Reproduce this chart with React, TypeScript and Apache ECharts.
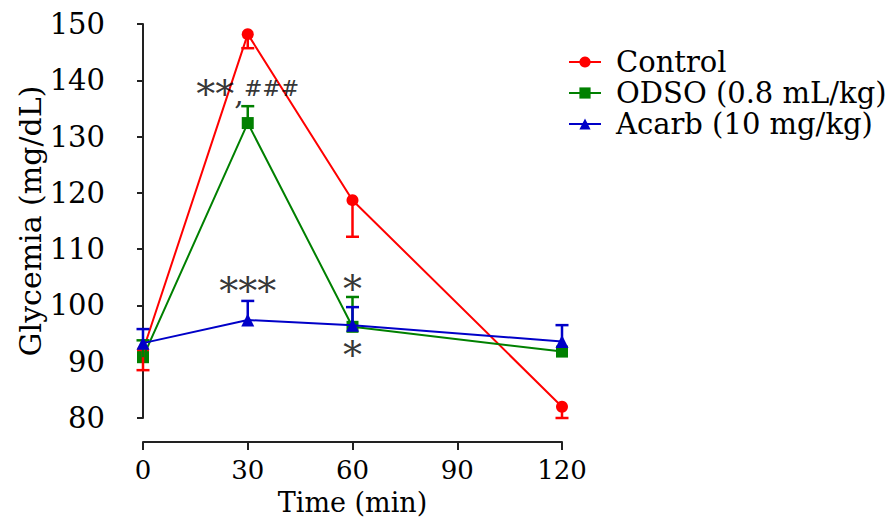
import React, { useEffect, useRef } from "react";
import * as echarts from "echarts";

const times = [0, 30, 60, 120];
const seriesNames = ["Control", "ODSO (0.8 mL/kg)", "Acarb (10 mg/kg)"];
const controlMean = [92, 148.2, 118.7, 82];
const controlErr = [3.5, 2.5, 6.5, 2];
const odsoMean = [90.8, 132.4, 96.2, 91.8];
const odsoErr = [3, 3, 5.3, 0];
const acarbMean = [93.3, 97.4, 96.5, 93.6];
const acarbErr = [2.5, 3.4, 3.2, 2.9];
const annotations = [
  { x: 30, y: 137.6, stars: "**", hashes: "###" },
  { x: 30, y: 102.6, stars: "***", hashes: "" },
  { x: 60, y: 102.9, stars: "*", hashes: "" },
  { x: 60, y: 91.2, stars: "*", hashes: "" },
];

const FONT = "DejaVu Serif";
const colors = ["#ff0000", "#008000", "#0000c8"];

function errData(mean: number[], err: number[], dir: number) {
  return times.map((t, i) => {
    const a = mean[i];
    const b = mean[i] + dir * err[i];
    return [t, Math.min(a, b), Math.max(a, b), dir];
  });
}

function errSeries(data: number[][], color: string) {
  return {
    type: "custom",
    silent: true,
    z: 5,
    data,
    renderItem: (params: any, api: any) => {
      const x = api.value(0);
      const lo = api.value(1);
      const hi = api.value(2);
      const dir = api.value(3);
      if (hi - lo <= 0) return null;
      const p1 = api.coord([x, lo]);
      const p2 = api.coord([x, hi]);
      const capY = dir > 0 ? p2[1] : p1[1];
      const hw = 6.5;
      return {
        type: "group",
        children: [
          { type: "line", shape: { x1: p1[0], y1: p1[1], x2: p2[0], y2: p2[1] }, style: { stroke: color, lineWidth: 2.5 } },
          { type: "line", shape: { x1: p1[0] - hw, y1: capY, x2: p1[0] + hw, y2: capY }, style: { stroke: color, lineWidth: 2.5 } },
        ],
      };
    },
  };
}

export default function App() {
  const ref = useRef<HTMLDivElement>(null);
  useEffect(() => {
    if (!ref.current) return;
    const chart = echarts.init(ref.current, null, { renderer: "svg" });
    const means = [controlMean, odsoMean, acarbMean];
    const symbols = ["circle", "rect", "triangle"];
    const sizes = [12, 12, 13];
    const lineSeries = means.map((m, k) => ({
      name: seriesNames[k],
      type: "line",
      data: times.map((t, i) => [t, m[i]]),
      symbol: symbols[k],
      symbolSize: sizes[k],
      showAllSymbol: true,
      lineStyle: { color: colors[k], width: 2 },
      itemStyle: { color: colors[k] },
      z: 3 + k,
    }));
    chart.setOption({
      animation: false,
      backgroundColor: "#ffffff",
      textStyle: { fontFamily: FONT },
      grid: { left: 143, right: 329, top: 24, bottom: 101, containLabel: false, outerBoundsMode: "none" },
      legend: {
        orient: "vertical",
        left: 563,
        top: 42,
        itemWidth: 32,
        itemHeight: 14,
        itemGap: 1,
        data: seriesNames,
        textStyle: { fontFamily: FONT, fontSize: 29, lineHeight: 30, color: "#000", padding: [0, 0, 0, 10] },
      },
      xAxis: {
        type: "value",
        min: 0,
        max: 120,
        interval: 30,
        offset: 24,
        name: "Time (min)",
        nameLocation: "middle",
        nameGap: 47,
        nameMoveOverlap: false,
        nameTextStyle: { fontFamily: FONT, fontSize: 27, color: "#000" },
        axisLine: { show: true, lineStyle: { color: "#222", width: 2 } },
        axisTick: { show: true, length: 8, lineStyle: { color: "#222", width: 2 } },
        axisLabel: { fontFamily: FONT, fontSize: 26, color: "#000", margin: 15 },
        splitLine: { show: false },
      },
      yAxis: {
        type: "value",
        min: 80,
        max: 150,
        interval: 10,
        offset: 26,
        name: "Glycemia (mg/dL)",
        nameLocation: "middle",
        nameGap: 72,
        nameMoveOverlap: false,
        nameRotate: 90,
        nameTextStyle: { fontFamily: FONT, fontSize: 30, color: "#000" },
        axisLine: { show: true, lineStyle: { color: "#222", width: 2 } },
        axisTick: { show: true, length: 6, lineStyle: { color: "#222", width: 2 } },
        axisLabel: { fontFamily: FONT, fontSize: 29, color: "#000", margin: 12 },
        splitLine: { show: false },
      },
      series: [
        ...lineSeries,
        errSeries(errData(controlMean, controlErr, -1), colors[0]),
        errSeries(errData(odsoMean, odsoErr, 1), colors[1]),
        errSeries(errData(acarbMean, acarbErr, 1), colors[2]),
        {
          type: "scatter",
          silent: true,
          symbolSize: 0,
          z: 10,
          data: annotations.map((a) => ({ value: [a.x, a.y], name: a.stars, hashes: a.hashes })),
          label: {
            show: true,
            position: "inside",
            formatter: (p: any) => {
              const h = p.data.hashes;
              return h ? `{s|${p.name}}{c|,}{h|${h}}` : `{s|${p.name}}`;
            },
            rich: {
              s: { fontFamily: FONT, fontSize: 38, color: "#000" },
              c: { fontFamily: FONT, fontSize: 30, color: "#000" },
              h: { fontFamily: FONT, fontSize: 22, color: "#000", padding: [0, 0, 10, 0] },
            },
            fontFamily: FONT,
            fontSize: 38,
            color: "#000",
          },
        },
      ],
    });
    return () => chart.dispose();
  }, []);
  return <div ref={ref} style={{ width: 891, height: 519, position: "absolute", left: 0, top: 0 }} />;
}
